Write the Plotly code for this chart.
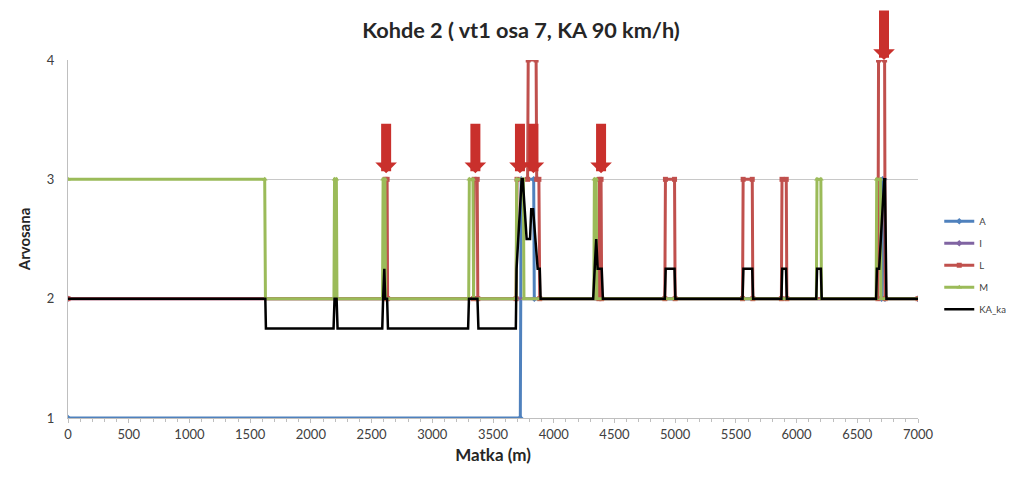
import plotly.graph_objects as go

# ---- data (breakpoints) ----
a_x = [0, 3725, 3732, 3835, 3840, 6700, 6708, 6722, 6728, 7000]
a_y = [1, 1, 3, 3, 2, 2, 3, 3, 2, 2]

i_x = [0, 7000]
i_y = [2, 2]

l_x = [0, 2608, 2612, 2628, 2632, 3340, 3345, 3370, 3375, 3690, 3698, 3785, 3790,
       3855, 3860, 3878, 3885, 4372, 4377, 4390, 4395, 4915, 4920, 4995, 5000,
       5555, 5560, 5635, 5640, 5875, 5880, 5915, 5920, 6670, 6675, 6725, 6730, 7000]
l_y = [2, 2, 3, 3, 2, 2, 3, 3, 2, 2, 3, 3, 4,
       4, 3, 3, 2, 2, 3, 3, 2, 2, 3, 3, 2,
       2, 3, 3, 2, 2, 3, 3, 2, 2, 4, 4, 2, 2]

m_x = [0, 1620, 1626, 2190, 2195, 2210, 2215, 2590, 2595, 2610, 2615, 3300, 3305,
       3335, 3340, 3690, 3695, 3750, 3755, 4330, 4335, 4350, 4355, 6163, 6168,
       6200, 6205, 6655, 6660, 6690, 6695, 7000]
m_y = [3, 3, 2, 2, 3, 3, 2, 2, 3, 3, 2, 2, 3,
       3, 2, 2, 3, 3, 2, 2, 3, 3, 2, 2, 3,
       3, 2, 2, 3, 3, 2, 2]

ka_x = [0, 1625, 1630, 2187, 2195, 2212, 2220, 2588, 2595, 2605, 2612, 2628, 2635,
        3295, 3302, 3372, 3380, 3688, 3694, 3736, 3745, 3777, 3805, 3815, 3830,
        3868, 3885, 3892, 4325, 4335, 4350, 4362, 4395, 4405, 4915, 4922, 4995,
        5002, 5555, 5562, 5635, 5642, 5875, 5882, 5913, 5920, 6162, 6169, 6200,
        6207, 6655, 6662, 6680, 6722, 6728, 6740, 7000]
ka_y = [2, 2, 1.75, 1.75, 2, 2, 1.75, 1.75, 2, 2.25, 2, 2, 1.75,
        1.75, 2, 2, 1.75, 1.75, 2.25, 3, 3, 2.5, 2.5, 2.75, 2.75,
        2.25, 2.25, 2, 2, 2.25, 2.5, 2.25, 2.25, 2, 2, 2.25, 2.25,
        2, 2, 2.25, 2.25, 2, 2, 2.25, 2.25, 2, 2, 2.25, 2.25,
        2, 2, 2.25, 2.25, 3, 3, 2, 2]

arrow_x = [2620, 3355, 3722, 3833, 4390, 6720]
arrow_tip_y = [3.05, 3.05, 3.05, 3.05, 3.05, 4.0]

x_ticks = list(range(0, 7001, 500))
y_ticks = [1, 2, 3, 4]

FONT = "Lato, 'Open Sans', sans-serif"

fig = go.Figure()
series = [
    ("A", a_x, a_y, "#4F81BD", "diamond"),
    ("I", i_x, i_y, "#8064A2", "diamond"),
    ("L", l_x, l_y, "#C0504D", "square"),
    ("M", m_x, m_y, "#9BBB59", "triangle-up"),
]
for name, xs, ys, col, sym in series:
    fig.add_trace(go.Scatter(
        x=xs, y=ys, name=name, mode="lines+markers", legendgroup=name,
        line=dict(color=col, width=3),
        marker=dict(color=col, size=5, symbol=sym),
    ))
fig.add_trace(go.Scatter(
    x=ka_x, y=ka_y, name="KA_ka", mode="lines", legendgroup="KA_ka",
    line=dict(color="black", width=2.5),
))

for ax_, ty in zip(arrow_x, arrow_tip_y):
    fig.add_annotation(
        x=ax_, y=ty, xref="x", yref="y", text="", showarrow=True,
        ax=0, ay=-51, axref="pixel", ayref="pixel",
        arrowhead=1, arrowwidth=10, arrowsize=0.36,
        arrowcolor="#C9302C",
    )

# page body adds an 8px offset to the figure
fig.update_layout(
    width=1016, height=476,
    margin=dict(l=60, r=106, t=52, b=66, autoexpand=False),
    paper_bgcolor="white", plot_bgcolor="white",
    font=dict(family=FONT, size=13, color="#404040"),
    title=dict(text="<b>Kohde 2 ( vt1 osa 7, KA 90 km/h)</b>",
               x=513 / 1016, xanchor="center", y=1 - 22 / 476, yanchor="middle",
               font=dict(family=FONT, size=21.7, color="#262626")),
    showlegend=True,
    legend=dict(x=1.025, y=0.427, xanchor="left", yanchor="middle",
                font=dict(family=FONT, size=9.5, color="#404040"),
                traceorder="grouped", tracegroupgap=3,
                itemwidth=30, bgcolor="rgba(0,0,0,0)"),
)
fig.update_xaxes(
    range=[0, 7000], tickvals=x_ticks, ticktext=[str(v) for v in x_ticks],
    showgrid=False, zeroline=False, automargin=False,
    showline=True, linecolor="#BFBFBF", linewidth=1,
    ticks="outside", ticklen=4, tickcolor="#BFBFBF",
    minor=dict(dtick=100, ticks="outside", ticklen=3, tickcolor="#BFBFBF", showgrid=False),
    tickfont=dict(family=FONT, size=13, color="#404040"),
    title=dict(text="<b>Matka (m)</b>", font=dict(family=FONT, size=17, color="#262626"),
               standoff=8),
)
fig.update_yaxes(
    range=[1, 4], tickvals=y_ticks,
    showgrid=True, gridcolor="#C8C8C8", gridwidth=1, zeroline=False, automargin=False,
    showline=True, linecolor="#BFBFBF", linewidth=1,
    ticks="", ticklabelstandoff=10,
    tickfont=dict(family=FONT, size=13, color="#404040"),
    title=dict(text="<b>Arvosana</b>", font=dict(family=FONT, size=15, color="#262626"),
               standoff=12),
)

fig.write_html("out.html")
